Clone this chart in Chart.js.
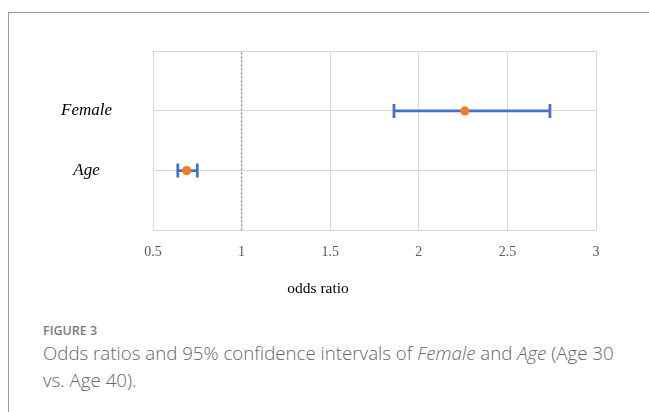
<!DOCTYPE html>
<html>
<head>
<meta charset="utf-8">
<script src="https://cdn.jsdelivr.net/npm/chart.js@4/dist/chart.umd.min.js"></script>
<style>
  html, body { margin: 0; padding: 0; background: #fff; }
  body { width: 649px; height: 412px; position: relative; overflow: hidden; }
  #frameTop { position: absolute; left: 8px; top: 12px; width: 641px; height: 0; border-top: 1.5px solid #9a9a9a; }
  #frameLeft { position: absolute; left: 8px; top: 12px; width: 0; height: 400px; border-left: 1.5px solid #9a9a9a; }
  #c { position: absolute; left: 0; top: 0; }
  #figLabel { position: absolute; left: 43px; top: 324px; font-family: "Open Sans", sans-serif; font-weight: 600; font-size: 12.5px; line-height: 14px; color: #7a7a7a; white-space: nowrap; }
  #caption { position: absolute; left: 43px; top: 339px; font-family: "Open Sans", sans-serif; font-weight: 300; font-size: 18.7px; line-height: 27px; color: #666; white-space: nowrap; }
</style>
</head>
<body>
<div id="frameTop"></div>
<div id="frameLeft"></div>
<canvas id="c" width="649" height="310"></canvas>
<div id="figLabel">FIGURE 3</div>
<div id="caption">Odds ratios and 95% confidence intervals of <i>Female</i> and <i>Age</i> (Age 30<br>vs. Age 40).</div>
<script>
const categories = ['Female', 'Age'];
const oddsRatios = [2.26, 0.69];
const ciLower = [1.86, 0.64];
const ciUpper = [2.74, 0.75];
const xTicks = [0.5, 1, 1.5, 2, 2.5, 3];
const xTickLabels = ['0.5', '1', '1.5', '2', '2.5', '3'];
const referenceValue = 1;
const xAxisTitle = 'odds ratio';

const nRows = categories.length;
const rowPos = i => nRows - i;

const blue = '#4472C4';
const orange = '#ED7D31';

const datasets = [];
datasets.push({
  label: 'OR',
  data: oddsRatios.map((v, i) => ({ x: v, y: rowPos(i) })),
  backgroundColor: orange,
  borderColor: orange,
  pointRadius: 4.6,
  pointBorderWidth: 0,
  showLine: false,
  order: 0
});
categories.forEach((c, i) => {
  datasets.push({
    label: c + ' CI',
    data: [{ x: ciLower[i], y: rowPos(i) }, { x: ciUpper[i], y: rowPos(i) }],
    borderColor: blue,
    backgroundColor: blue,
    borderWidth: 2.8,
    showLine: true,
    pointStyle: 'line',
    pointRotation: 90,
    pointRadius: 7,
    pointBorderWidth: 2.8,
    pointBorderColor: blue,
    order: 1
  });
});
datasets.push({
  label: 'reference',
  data: [{ x: referenceValue, y: 0 }, { x: referenceValue, y: nRows + 1 }],
  borderColor: '#9a9a9a',
  borderWidth: 1.5,
  borderDash: [2, 2],
  showLine: true,
  pointRadius: 0,
  order: 2
});

new Chart(document.getElementById('c'), {
  type: 'scatter',
  data: { datasets },
  options: {
    responsive: false,
    animation: false,
    devicePixelRatio: 1,
    layout: { padding: { left: 40, right: 53, top: 46.7, bottom: 12 } },
    plugins: {
      legend: { display: false },
      tooltip: { enabled: false },
      title: {
        display: true,
        position: 'bottom',
        text: xAxisTitle,
        color: '#000',
        font: { family: '"Liberation Serif", serif', size: 15.5, weight: 'normal' },
        padding: 0
      }
    },
    scales: {
      x: {
        type: 'linear',
        min: xTicks[0],
        max: xTicks[xTicks.length - 1],
        afterBuildTicks: s => { s.ticks = xTicks.map(v => ({ value: v })); },
        afterFit: s => { s.height = 49.1; },
        grid: { color: '#d9d9d9', lineWidth: 1, drawTicks: false },
        border: { color: '#d9d9d9' },
        ticks: {
          padding: 14,
          color: '#595959',
          font: { family: '"Liberation Serif", serif', size: 14 },
          maxRotation: 0,
          callback: (v, i) => xTickLabels[i]
        }
      },
      y: {
        type: 'linear',
        min: 0,
        max: nRows + 1,
        afterBuildTicks: s => {
          const t = [];
          for (let v = 0; v <= nRows + 1; v++) t.push({ value: v });
          s.ticks = t;
        },
        afterFit: s => { s.width = 113; },
        grid: { color: '#d9d9d9', lineWidth: 1, drawTicks: false },
        border: { color: '#d9d9d9' },
        ticks: {
          padding: 41,
          crossAlign: 'center',
          color: '#000',
          font: { family: '"Liberation Serif", serif', size: 17, style: 'italic' },
          callback: v => (v >= 1 && v <= nRows) ? categories[nRows - v] : ''
        }
      }
    }
  }
});
</script>
</body>
</html>
